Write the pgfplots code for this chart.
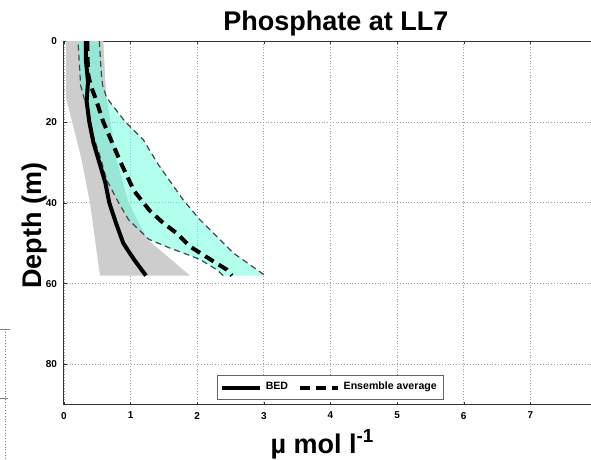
\documentclass[border=0pt]{standalone}
\usepackage{pgfplots}
\pgfplotsset{compat=1.18}
\usepackage{fontspec}
\setmainfont{Liberation Sans}
\definecolor{bedgray}{RGB}{205,205,205}
\definecolor{enscyan}{RGB}{101,255,221}
\definecolor{edgegray}{RGB}{70,70,70}
\definecolor{gridgray}{RGB}{160,160,160}
\begin{document}
\begin{tikzpicture}
\begin{axis}[
  scale only axis,
  width=266.5pt, height=182pt,
  xmin=0, xmax=8, ymin=0, ymax=90,
  y dir=reverse,
  xtick={0,1,...,7}, ytick={0,20,...,80},
  grid=major,
  major grid style={densely dotted, gridgray, line width=0.4pt},
  axis line style={black!80, line width=0.5pt},
  major tick length=1.5pt,
  tick style={black!80},
  /pgf/number format/assume math mode=true,
  ticklabel style={font=\bfseries\fontsize{5}{6}\selectfont},
  title={Phosphate at LL7},
  every axis title/.style={font=\bfseries\fontsize{13.5}{15}\selectfont, at={(axis description cs:0.51,1)}, anchor=base, yshift=5.5pt},
  ylabel={Depth (m)},
  ylabel style={font=\bfseries\fontsize{13.5}{15}\selectfont, at={(axis description cs:-0.0413,0.493)}, anchor=base, rotate=0},
  xlabel={\textmu\ mol l\textsuperscript{-1}},
  xlabel style={font=\bfseries\fontsize{13.5}{15}\selectfont, at={(axis description cs:0.485,-0.1319)}, anchor=base},
  legend columns=2,
  legend style={at={(axis cs:4,85.7)}, anchor=center, font=\bfseries\fontsize{5.3}{6}\selectfont, draw=black!60, line width=0.5pt, inner xsep=1.5pt, inner ysep=1.5pt, /tikz/every even column/.append style={column sep=3pt}},
  legend image code/.code={\draw[#1] (0cm,0cm) -- (0.66cm,0cm);},
]
% BED range (grey)
\addplot[fill=bedgray, draw=none, forget plot] coordinates {
 (0.03,0) (0.03,14) (0.26,29) (0.39,40) (0.54,58)
 (1.89,58) (1.25,49) (0.97,40) (0.79,29.4) (0.64,14) (0.62,10) (0.59,0)
} -- cycle;
% Ensemble range (cyan)
\addplot[fill=enscyan, fill opacity=0.5, draw=none, forget plot] coordinates {
 (0.53,0) (0.56,8) (0.58,11) (0.64,14) (0.92,20) (1.19,24.4) (1.41,30.4) (1.79,39.3) (2.04,44.2) (2.54,52.4) (3.02,58)
 (2.39,58) (2.29,56.5) (2.04,54) (1.79,52.4) (1.59,51.2) (1.27,49) (0.97,44.2) (0.82,40) (0.64,34.3) (0.55,29) (0.45,24) (0.37,18) (0.30,14) (0.25,11) (0.21,0)
} -- cycle;
\addplot[edgegray, line width=0.6pt, dash pattern=on 3pt off 2pt, forget plot] coordinates {
 (0.53,0) (0.56,8) (0.58,11) (0.64,14) (0.92,20) (1.19,24.4) (1.41,30.4) (1.79,39.3) (2.04,44.2) (2.54,52.4) (3.02,58)
};
\addplot[edgegray, line width=0.6pt, dash pattern=on 3pt off 2pt, forget plot] coordinates {
 (2.39,58) (2.29,56.5) (2.04,54) (1.79,52.4) (1.59,51.2) (1.27,49) (0.97,44.2) (0.82,40) (0.64,34.3) (0.55,29) (0.45,24) (0.37,18) (0.30,14) (0.25,11) (0.21,0)
};
% BED
\addplot[black, line width=2pt] coordinates {
 (0.33,0) (0.33,5) (0.36,10) (0.34,15) (0.38,20) (0.44,25) (0.53,30) (0.62,35) (0.68,40) (0.78,45) (0.89,50) (1.05,54) (1.23,58)
};
\addlegendentry{BED}
% Ensemble average
\addplot[black, line width=2pt, dash pattern=on 5pt off 3pt] coordinates {
 (0.35,0) (0.36,8) (0.40,11) (0.47,14) (0.59,20) (0.72,25) (0.85,30) (1.05,37) (1.29,42) (1.49,45) (1.69,47.5) (1.89,50.8) (2.12,53.2) (2.44,56.5) (2.52,58)
};
\addlegendentry{Ensemble average}
\end{axis}
% fragment of neighbouring panel at the left edge
\draw[gray, densely dotted, line width=0.4pt] ([xshift=-29.5pt,yshift=38pt]current axis.south west) -- ([xshift=-29.5pt,yshift=-27.5pt]current axis.south west);
\draw[gray, line width=0.4pt] ([xshift=-32pt,yshift=38pt]current axis.south west) -- ([xshift=-27pt,yshift=38pt]current axis.south west);
\draw[gray, line width=0.4pt] ([xshift=-32pt,yshift=3.5pt]current axis.south west) -- ([xshift=-28pt,yshift=3.5pt]current axis.south west);
\pgfresetboundingbox
\path[use as bounding box] ([xshift=-32pt,yshift=-27.5pt]current axis.south west) rectangle ([xshift=263.5pt,yshift=202.5pt]current axis.south west);
\end{tikzpicture}
\end{document}
